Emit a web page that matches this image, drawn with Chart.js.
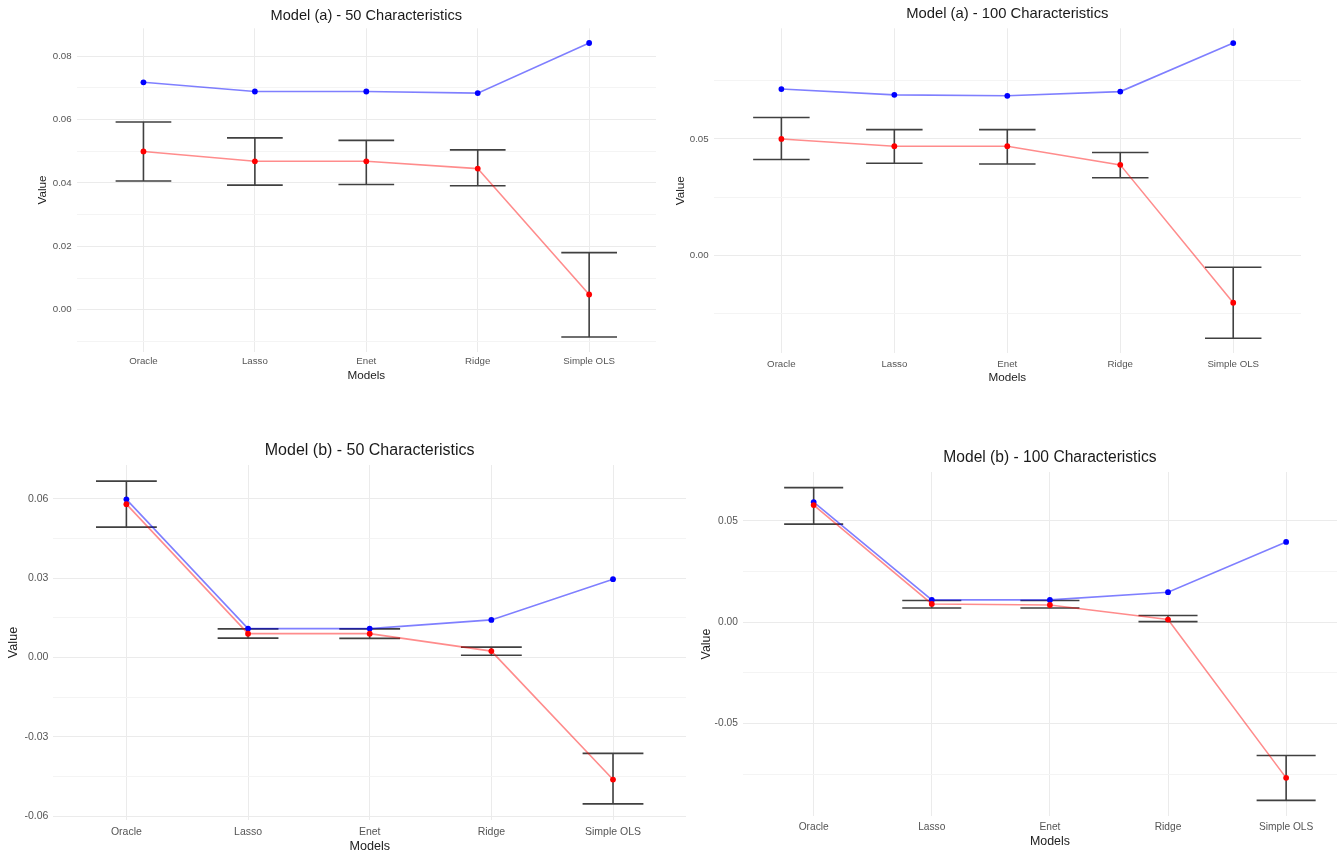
<!DOCTYPE html>
<html>
<head>
<meta charset="utf-8">
<script src="https://cdn.jsdelivr.net/npm/chart.js@4.4.1/dist/chart.umd.min.js"></script>
<style>
html,body{margin:0;padding:0;background:#fff;overflow:hidden;width:1337px;height:856px;position:relative}
canvas{position:absolute}
</style>
</head>
<body>
<canvas id="c1"></canvas>
<canvas id="c2"></canvas>
<canvas id="c3"></canvas>
<canvas id="c4"></canvas>
<script>
// ---------- data ----------
const categories = ['Oracle', 'Lasso', 'Enet', 'Ridge', 'Simple OLS'];

// Model (a) - 50 Characteristics
const a50Blue  = [0.0717, 0.0688, 0.0688, 0.0683, 0.0841];
const a50Red   = [0.0499, 0.0468, 0.0468, 0.0445, 0.0048];
const a50Upper = [0.0592, 0.0542, 0.0534, 0.0504, 0.0180];
const a50Lower = [0.0406, 0.0393, 0.0395, 0.0391, -0.0086];

// Model (a) - 100 Characteristics
const a100Blue  = [0.0714, 0.0689, 0.0685, 0.0703, 0.0911];
const a100Red   = [0.0500, 0.0469, 0.0469, 0.0389, -0.0202];
const a100Upper = [0.0592, 0.0540, 0.0540, 0.0442, -0.0050];
const a100Lower = [0.0412, 0.0396, 0.0393, 0.0334, -0.0354];

// Model (b) - 50 Characteristics
const b50Blue  = [0.0598, 0.0109, 0.0109, 0.0142, 0.0296];
const b50Red   = [0.0580, 0.0090, 0.0090, 0.0024, -0.0462];
const b50Upper = [0.0667, 0.0108, 0.0108, 0.0039, -0.0363];
const b50Lower = [0.0493, 0.0073, 0.0072, 0.0008, -0.0554];

// Model (b) - 100 Characteristics
const b100Blue  = [0.0593, 0.0110, 0.0110, 0.0148, 0.0396];
const b100Red   = [0.0578, 0.0090, 0.0085, 0.0013, -0.0768];
const b100Upper = [0.0664, 0.0107, 0.0107, 0.0033, -0.0658];
const b100Lower = [0.0484, 0.0070, 0.0070, 0.0003, -0.0879];

const panelTitles = [
  'Model (a) - 50 Characteristics',
  'Model (a) - 100 Characteristics',
  'Model (b) - 50 Characteristics',
  'Model (b) - 100 Characteristics'
];
// y tick spacing (labelled ticks every 2 steps, the others are minor grid lines)
const yTickSteps = [0.01, 0.025, 0.015, 0.025];
const xAxisTitle = 'Models';
const yAxisTitle = 'Value';

// ---------- layout (page pixels) ----------
const layouts = [
  {id:'c1', plotLeft:76.6, plotRight:659.2, plotTop:28.3, plotBottom:351.7, valueX:43.3, titleY:15.7, labelY:361.7, modelsY:376, titleSize:14.6, tickSize:9.7, axisSize:11.7},
  {id:'c2', plotLeft:713.6, plotRight:1303.9, plotTop:28.3, plotBottom:353, valueX:680.7, titleY:14, labelY:364, modelsY:378, titleSize:14.8, tickSize:9.7, axisSize:11.7},
  {id:'c3', plotLeft:53.4, plotRight:688.8, plotTop:465, plotBottom:820, valueX:14, titleY:450.7, labelY:831.7, modelsY:846.7, titleSize:16, tickSize:10.5, axisSize:12.6},
  {id:'c4', plotLeft:742.8, plotRight:1359.9, plotTop:472, plotBottom:816, valueX:706.7, titleY:457.7, labelY:826.7, modelsY:841.7, titleSize:15.6, tickSize:10.2, axisSize:12.4}
];

const panels = [
  {blue:a50Blue, red:a50Red, upper:a50Upper, lower:a50Lower},
  {blue:a100Blue, red:a100Red, upper:a100Upper, lower:a100Lower},
  {blue:b50Blue, red:b50Red, upper:b50Upper, lower:b50Lower},
  {blue:b100Blue, red:b100Red, upper:b100Upper, lower:b100Lower}
];

const FONT = "'Liberation Sans', Arial, Helvetica, sans-serif";
const LH = 1.2;

function makeErrorPlugin(upper, lower) {
  return {
    id: 'errorBars',
    beforeDatasetsDraw(chart) {
      const {ctx, scales: {x, y}} = chart;
      ctx.save();
      ctx.strokeStyle = '#404040';
      ctx.lineWidth = 1.6;
      upper.forEach((u, i) => {
        const l = lower[i];
        const xc = x.getPixelForValue(i);
        const x0 = x.getPixelForValue(i - 0.25);
        const x1 = x.getPixelForValue(i + 0.25);
        const yu = y.getPixelForValue(u);
        const yl = y.getPixelForValue(l);
        ctx.beginPath();
        ctx.moveTo(xc, yu); ctx.lineTo(xc, yl);
        ctx.moveTo(x0, yu); ctx.lineTo(x1, yu);
        ctx.moveTo(x0, yl); ctx.lineTo(x1, yl);
        ctx.stroke();
      });
      ctx.restore();
    }
  };
}

layouts.forEach((L, k) => {
  const P = panels[k];
  const step = yTickSteps[k];
  const all = P.blue.concat(P.red, P.upper, P.lower);
  const lo = Math.min(...all), hi = Math.max(...all);
  const pad = (hi - lo) * 0.05;
  const yMin = lo - pad, yMax = hi + pad;

  const axisLH = L.axisSize * LH;
  const titleLH = L.titleSize * LH;
  const canvasLeft = Math.round(L.valueX - axisLH / 2);
  const yAxisWidth = L.plotLeft - canvasLeft;
  const canvasRight = Math.round(L.plotRight) + 1;
  const titleBottomPad = L.plotTop - L.titleY - titleLH / 2;
  const canvasTop = Math.round(L.plotTop - titleLH - titleBottomPad);
  const titleTopPad = (L.plotTop - canvasTop) - titleLH - titleBottomPad;
  const canvasBottom = Math.round(L.modelsY + axisLH / 2);
  const xAxisHeight = canvasBottom - L.plotBottom;
  const xTickPad = L.labelY - L.plotBottom - L.tickSize * LH / 2;

  const cv = document.getElementById(L.id);
  cv.width = canvasRight - canvasLeft;
  cv.height = canvasBottom - canvasTop;
  cv.style.left = canvasLeft + 'px';
  cv.style.top = canvasTop + 'px';

  const isMajor = v => Math.abs(Math.round(v / step)) % 2 === 0;

  new Chart(cv, {
    type: 'line',
    data: {
      datasets: [
        {
          data: P.red.map((v, i) => ({x: i, y: v})),
          borderColor: 'rgba(255,0,0,0.45)',
          borderWidth: 1.6,
          pointRadius: 2.9,
          pointBackgroundColor: '#ff0000',
          pointBorderColor: '#ff0000',
          pointBorderWidth: 0,
          tension: 0
        },
        {
          data: P.blue.map((v, i) => ({x: i, y: v})),
          borderColor: 'rgba(0,0,255,0.5)',
          borderWidth: 1.6,
          pointRadius: 2.9,
          pointBackgroundColor: '#0000ff',
          pointBorderColor: '#0000ff',
          pointBorderWidth: 0,
          tension: 0
        }
      ]
    },
    options: {
      responsive: false,
      animation: false,
      events: [],
      layout: {padding: 0},
      plugins: {
        legend: {display: false},
        tooltip: {enabled: false},
        title: {
          display: true,
          text: panelTitles[k],
          fullSize: false,
          color: '#1a1a1a',
          font: {family: FONT, size: L.titleSize, weight: 'normal', lineHeight: LH},
          padding: {top: titleTopPad, bottom: titleBottomPad}
        }
      },
      scales: {
        x: {
          type: 'linear',
          min: -0.6,
          max: categories.length - 0.4,
          offset: false,
          afterFit(s) { s.height = xAxisHeight; },
          ticks: {
            stepSize: 1,
            includeBounds: false,
            autoSkip: false,
            maxRotation: 0,
            padding: xTickPad,
            color: '#555555',
            font: {family: FONT, size: L.tickSize, lineHeight: LH},
            callback: v => categories[Math.round(v)] ?? ''
          },
          grid: {color: '#ebebeb', lineWidth: 1, drawTicks: false},
          border: {display: false},
          title: {
            display: true,
            text: xAxisTitle,
            color: '#222222',
            font: {family: FONT, size: L.axisSize, lineHeight: LH},
            padding: 0
          }
        },
        y: {
          type: 'linear',
          min: yMin,
          max: yMax,
          afterFit(s) { s.width = yAxisWidth; },
          ticks: {
            stepSize: step,
            includeBounds: false,
            autoSkip: false,
            padding: 5,
            color: '#555555',
            font: {family: FONT, size: L.tickSize, lineHeight: LH},
            callback: v => {
              if (!isMajor(v)) return '';
              const r = Math.abs(v) < 1e-9 ? 0 : v;
              return r.toFixed(2);
            }
          },
          grid: {
            drawTicks: false,
            lineWidth: 1,
            color: c => isMajor(c.tick.value) ? '#ebebeb' : '#f4f4f4'
          },
          border: {display: false},
          title: {
            display: true,
            text: yAxisTitle,
            color: '#222222',
            font: {family: FONT, size: L.axisSize, lineHeight: LH},
            padding: 0
          }
        }
      }
    },
    plugins: [makeErrorPlugin(P.upper, P.lower)]
  });
});
</script>
</body>
</html>
